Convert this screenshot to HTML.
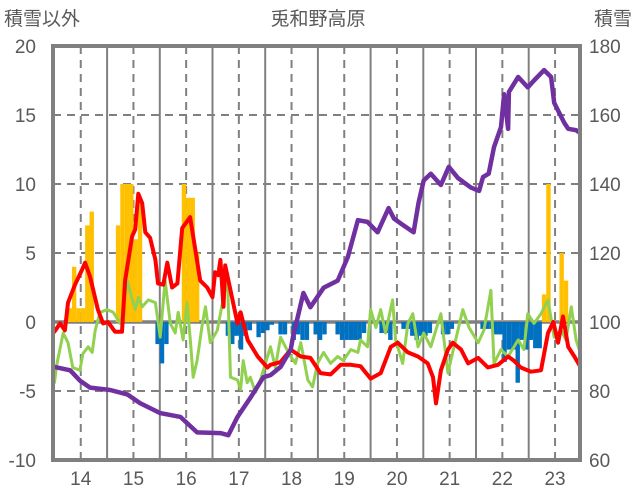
<!DOCTYPE html>
<html><head><meta charset="utf-8">
<style>
html,body{margin:0;padding:0;background:#fff;}
svg{display:block;font-family:"Liberation Sans","Noto Sans CJK JP",sans-serif;}
</style></head>
<body>
<svg id="chart" width="636" height="501" viewBox="0 0 636 501" xmlns="http://www.w3.org/2000/svg">
<text x="318" y="25" font-size="19" fill="#595959" text-anchor="middle">兎和野高原</text>
<text x="4" y="25" font-size="19" fill="#595959">積雪以外</text>
<text x="632" y="25" font-size="19" fill="#595959" text-anchor="end">積雪</text>
<g id="grid"></g>
<g id="bars"></g>
<g id="lines"></g>
<rect x="53" y="46" width="527" height="414" fill="none" stroke="#808080" stroke-width="4"/>
<g id="axes"></g>
</svg>
<script>
const leftTicks = [20, 15, 10, 5, 0, -5, -10];
const rightTicks = [180, 160, 140, 120, 100, 80, 60];
const yearLabels = ["14","15","16","17","18","19","20","21","22","23"];

const barMonths = [3,4,5,6,7,8,14,15,16,17,18,19,29,30,31,32,23,24,25,39,40,41,42,43,44,46,47,48,49,51,52,54,55,56,57,59,60,61,64,65,66,67,68,69,70,74,75,76,79,80,81,82,83,84,85,88,89,90,97,98,99,100,101,102,103,104,105,106,107,108,109,110,111,112,115,116];
const barValues = [1,4,1,1,7,8,7,10,10,10,6,9,10,9,9,5,-1.6,-3,-1.6,-1,-1.6,-1,-2,-1,-0.6,-1.1,-0.8,-0.6,-0.2,-0.9,-0.9,-1.3,-0.9,-1.3,-1.3,-0.9,-1.3,-0.9,-0.9,-1.3,-1.3,-1.3,-1.3,-1.3,-0.8,-0.8,-0.8,-1.3,-0.5,-0.5,-1,-1.3,-1,-1,-0.8,-0.9,-0.9,-0.5,-0.5,-0.5,-0.5,-0.9,-0.9,-2.9,-2,-2,-4.4,-1.3,-2,-1.3,-1.9,-1.9,2,10,5,3];

const redMonths = [0,1.3,2.4,3.1,4.7,6.3,7.0,8.1,9.9,11.1,12.2,13.8,15.4,16.1,17.7,18.4,19.1,20.0,20.7,21.8,23.0,23.6,24.8,25.7,26.8,28.0,29.1,30.9,32.1,33.2,34.8,36.0,36.6,37.3,37.8,38.5,38.9,40.1,41.7,42.4,44.0,46.3,48.5,49.2,51.5,53.8,56.1,58.3,60.6,62.9,65.2,67.5,69.7,72.0,74.3,76.6,78.2,80.5,82.8,85.0,86.2,86.9,88.0,89.6,90.7,92.6,94.2,96.5,98.7,101.0,103.3,104.6,106.2,108.5,110.8,112.4,113.6,114.7,115.8,117.0,118.4,119.5];
const redValues = [-0.7,-0.1,-0.6,1.4,2.7,3.8,4.3,3.3,0.9,-0.1,0,-0.7,-0.7,3,6.2,6.7,9.3,8.6,6.5,6.1,4.5,2.8,2.7,4.3,2.5,2.8,6.8,7.6,5.2,3,2.5,1.8,3.6,3.4,4.5,1.1,4.1,2.3,-0.1,0.7,-1.3,-2.5,-3.3,-3.1,-2.9,-2,-2.5,-2.6,-3.7,-3.8,-3.1,-3.1,-3.2,-4.1,-3.7,-1.8,-1.5,-2.2,-2.5,-3,-4,-5.9,-3.5,-2,-1.5,-2,-3,-2.6,-3.3,-3.1,-2.5,-2.8,-3.3,-3.6,-3.5,-0.8,0,-1.5,0.4,-1.8,-2.5,-3.1];

const greenMonths = [0,0.6,2.0,3.1,4.2,5.8,6.5,7.7,8.6,9.3,10.4,12.0,13.4,15.0,15.7,16.6,17.3,18.4,19.1,20.0,21.4,23.0,24.1,25.2,26.4,27.5,28.2,29.3,30.2,30.9,31.6,32.5,33.7,34.4,35.5,37.1,38.5,39.4,40.1,41.7,42.4,43.0,43.9,44.6,45.8,46.9,49.2,50.3,51.5,52.6,53.8,54.9,56.1,57.7,58.8,59.9,61.3,62.9,64.5,65.8,67.5,69.1,69.7,71.3,72.0,73.2,74.3,75.4,77.0,77.7,79.3,80.5,81.6,82.8,84.1,85.7,88.0,89.6,91.0,93.0,94.4,96.5,97.8,99.4,100.1,101.7,103.3,105.6,106.9,107.8,109.2,110.8,112.4,113.8,115.4,116.5,117.7,118.8,119.5];
const greenValues = [-4.4,-3,-0.8,-1.5,-3.3,-3.5,-2.3,-1.8,-2.2,-0.6,0.7,0.9,0.7,-0.1,0.9,3,2.1,0.9,1.8,1.1,1.6,1.4,-1.1,3,-0.1,-0.8,0.7,-1.3,1.4,-1.1,-4,-2.8,-0.1,1.1,-1.5,-0.6,1.8,3.3,-4,-4.2,-4.9,-2.8,-4.4,-4,-5.1,-4.2,-1.8,-3.3,-1.1,-1.8,-2.5,-3,-1.5,-4.2,-4.7,-3,-2.2,-3,-2.5,-2.8,-2,-2.2,-1.3,-1.8,0.9,-0.4,0.9,-0.8,1.6,-1.3,-3,-0.1,0.6,-1.8,-0.8,-1.8,0.6,-3.7,-1.8,0.9,-0.4,-1.5,-0.6,2.3,-3,-2,-2.5,-1.3,-2,0.6,-0.1,0.6,1.6,-1.1,-0.6,-1.3,1.1,-1.3,-2];

const purpleMonths = [0,3.6,5.8,8.1,12.7,16.6,19.5,24.1,28.7,32.5,37.8,39.6,41.7,44.6,47.6,49.2,51.5,53.8,54.5,55.4,56.7,58.3,61.3,64.5,66.8,69.1,71.3,73.6,76.1,77.3,79.5,81.8,82.9,84.1,85.7,88.0,89.8,91.9,94.8,96.7,97.6,98.9,100.1,101.7,102.4,103.3,103.5,105.6,107.8,109.2,111.5,113.1,113.8,116.1,117.0,118.8,119.5];
const purpleValues = [87,86,83,81,80.3,79,76.5,73.6,72.5,68,67.8,67.2,72.5,78,84,84.6,87,92,96.8,101.4,108.4,104.3,109.9,112,118.8,129.5,129,126,133,130,128,126,134.5,141,143,139.7,145,141.7,139,138,142,143,150.7,156.5,166,156,166.7,171,168,170,173,171,163.5,157.7,156,155.6,155];

const NS = "http://www.w3.org/2000/svg";
const X0 = 54.4, MW = 527 / 120;
function xOf(m){ return X0 + m * MW; }
function yL(v){ return 322 - v * 13.8; }
function yR(v){ return 322 - (v - 100) * 3.45; }
function mk(tag, parent){ const e = document.createElementNS(NS, tag); parent.appendChild(e); return e; }

const grid = document.getElementById('grid');
for (let k = 1; k < 10; k++) {
  const l = mk('line', grid);
  
  
  l.setAttribute('x1', xOf(12*k)); l.setAttribute('x2', xOf(12*k));
  l.setAttribute('y1', 46); l.setAttribute('y2', 460);
  l.setAttribute('stroke', '#808080'); l.setAttribute('stroke-width', 2);
}
for (let k = 0; k < 10; k++) {
  const l = mk('line', grid);
  
  
  l.setAttribute('x1', xOf(12*k+6)); l.setAttribute('x2', xOf(12*k+6));
  l.setAttribute('y1', 46); l.setAttribute('y2', 460);
  l.setAttribute('stroke', '#808080'); l.setAttribute('stroke-width', 2);
  l.setAttribute('stroke-dasharray', '8 6');
}
leftTicks.forEach(v => {
  if (v === 20 || v === -10) return;
  const l = mk('line', grid);
  
  
  l.setAttribute('x1', 53); l.setAttribute('x2', 580);
  l.setAttribute('y1', yL(v)); l.setAttribute('y2', yL(v));
  l.setAttribute('stroke', '#808080');
  l.setAttribute('stroke-width', v === 0 ? 3.5 : 2);
  if (v !== 0) l.setAttribute('stroke-dasharray', '8 6');
});

const bars = document.getElementById('bars');
barMonths.forEach((m, i) => {
  const v = barValues[i];
  const r = mk('rect', bars);
  
  
  const bw = 4.4;
  r.setAttribute('x', xOf(m + 0.5) - bw/2);
  r.setAttribute('width', bw);
  r.setAttribute('y', Math.min(yL(0), yL(v)));
  r.setAttribute('height', Math.abs(yL(v) - yL(0)));
  r.setAttribute('fill', v >= 0 ? '#FFC000' : '#0070C0');
});

const lines = document.getElementById('lines');
function drawLine(ms, vs, yf, color, w, name){
  const p = mk('polyline', lines);
  
  
  p.setAttribute('points', ms.map((m, i) => xOf(m).toFixed(1) + ',' + yf(vs[i]).toFixed(1)).join(' '));
  p.setAttribute('fill', 'none');
  p.setAttribute('stroke', color);
  p.setAttribute('stroke-width', w);
  p.setAttribute('stroke-linejoin', 'round');
  p.setAttribute('stroke-linecap', 'round');
}
drawLine(greenMonths, greenValues, yL, '#92D050', 3, 'green-series-line');
drawLine(redMonths, redValues, yL, '#FF0000', 4, 'red-series-line');
drawLine(purpleMonths, purpleValues, yR, '#7030A0', 4.5, 'snow-depth-line');

const axes = document.getElementById('axes');
leftTicks.forEach(v => {
  const t = mk('text', axes);
  
  
  t.setAttribute('x', 36); t.setAttribute('y', yL(v) + 7);
  t.setAttribute('text-anchor', 'end'); t.setAttribute('font-size', 19); t.setAttribute('fill', '#595959');
  t.textContent = v;
});
rightTicks.forEach(v => {
  const t = mk('text', axes);
  
  
  t.setAttribute('x', 589); t.setAttribute('y', yR(v) + 7);
  t.setAttribute('font-size', 19); t.setAttribute('fill', '#595959');
  t.textContent = v;
});
yearLabels.forEach((s, k) => {
  const t = mk('text', axes);
  
  
  t.setAttribute('x', xOf(12*k+6)); t.setAttribute('y', 485);
  t.setAttribute('text-anchor', 'middle'); t.setAttribute('font-size', 19); t.setAttribute('fill', '#595959');
  t.textContent = s;
});
</script>
</body></html>
